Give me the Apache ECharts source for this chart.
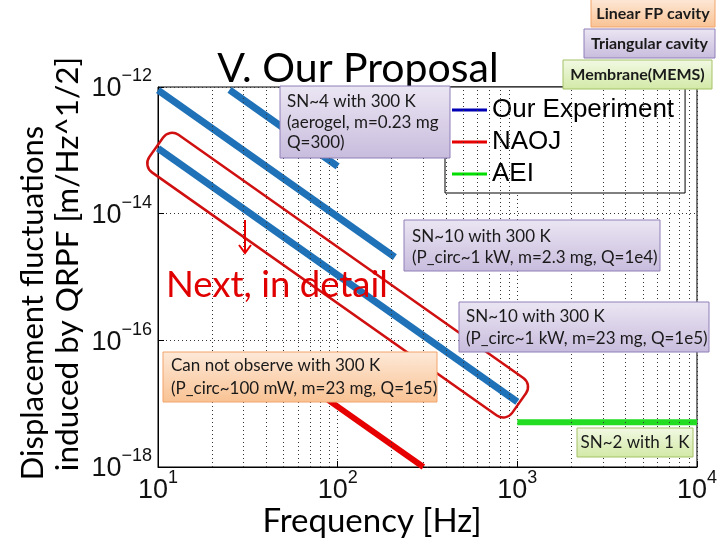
<!DOCTYPE html>
<html><head><meta charset="utf-8">
<script src="https://cdn.jsdelivr.net/npm/echarts@6/dist/echarts.min.js"></script>
<style>html,body{margin:0;padding:0;background:#fff}#c{width:720px;height:540px}</style>
</head><body><div id="c"></div>
<script>
// ---- data ----
const ourA_freq = [10, 208];            // SN~10, m=2.3 mg, Q=1e4
const ourA_val  = [8.9e-13, 2.06e-15];
const ourB_freq = [25, 100];            // SN~4, aerogel
const ourB_val  = [9.0e-13, 5.6e-14];
const ourC_freq = [10, 1000];           // SN~10, m=23 mg, Q=1e5
const ourC_val  = [1.07e-13, 1.07e-17];
const naoj_freq = [80, 300];
const naoj_val  = [1.4e-17, 1.0e-18];
const aei_freq  = [1000, 10000];
const aei_val   = [5.1e-18, 5.1e-18];
const minorGridFreqs = [20,30,40,50,60,70,80,90,200,300,400,500,600,700,800,900,2000,3000,4000,5000,6000,7000,8000,9000];
const legendNames = ['Our Experiment', 'NAOJ', 'AEI'];

const FONT = 'Lato, "Open Sans", sans-serif';
const AXFONT = '"Liberation Sans", Arial, sans-serif';
const BLUE = '#1f72b8', RED = '#e60000', GREEN = '#22dd22';

const pairs = (xs, ys) => xs.map((x, i) => [x, ys[i]]);
const supLabel = v => { const e = Math.round(Math.log10(v)); return '{b|10}{s|' + (e < 0 ? '\u2212' + (-e) : e) + '}'; };
const rich = {
  b: {fontSize: 27, lineHeight: 43, fontFamily: AXFONT, color: '#111'},
  s: {fontSize: 18, lineHeight: 18, verticalAlign: 'top', fontFamily: AXFONT, color: '#111'}
};

const chart = echarts.init(document.getElementById('c'));
const lineSeries = (name, xs, ys, color, width) => ({
  type: 'line', name, data: pairs(xs, ys), symbol: 'none', showSymbol: false,
  lineStyle: {color, width, cap: 'butt'}, itemStyle: {color}, clip: true, z: 3, silent: true
});

chart.setOption({
  animation: false,
  backgroundColor: '#fff',
  textStyle: {fontFamily: FONT},
  grid: {left: 158, top: 87, width: 539, height: 380, show: true, borderColor: '#000', borderWidth: 1, backgroundColor: '#fff'},
  xAxis: {
    type: 'log', logBase: 10, min: 10, max: 10000,
    axisLine: {show: true, lineStyle: {color: '#000', width: 1}},
    axisTick: {show: true, inside: true, length: 6, lineStyle: {color: '#000'}},
    axisLabel: {formatter: supLabel, rich, margin: 2},
    splitLine: {show: true, lineStyle: {color: '#333', type: [1, 3], width: 1}}
  },
  yAxis: {
    type: 'log', logBase: 100, min: 1e-18, max: 1e-12,
    axisLine: {show: true, lineStyle: {color: '#000', width: 1}},
    axisTick: {show: true, inside: true, length: 6, lineStyle: {color: '#000'}},
    axisLabel: {formatter: supLabel, rich, margin: 6, padding: [4, 0, 0, 0]},
    splitLine: {show: true, lineStyle: {color: '#333', type: [1, 3], width: 1}}
  },
  legend: {
    orient: 'vertical', left: 445, top: 87, backgroundColor: '#fff', borderColor: '#000', borderWidth: 1,
    padding: [8, 11, 4, 7], itemGap: 2, itemWidth: 35, itemHeight: 3, icon: 'rect', selectedMode: false,
    textStyle: {fontFamily: AXFONT, fontSize: 26, lineHeight: 30, color: '#000'},
    data: [
      {name: legendNames[0], itemStyle: {color: '#0000b4'}},
      {name: legendNames[1], itemStyle: {color: '#e60000'}},
      {name: legendNames[2], itemStyle: {color: '#00dd00'}}
    ]
  },
  series: [
    {type: 'line', data: [], silent: true, z: 1,
     markLine: {silent: true, symbol: ['none', 'none'], label: {show: false}, animation: false,
       lineStyle: {color: '#333', type: [1, 3], width: 1},
       data: minorGridFreqs.map(f => ({xAxis: f}))}},
    lineSeries(legendNames[0], ourA_freq, ourA_val, BLUE, 7),
    lineSeries(legendNames[0], ourB_freq, ourB_val, BLUE, 7),
    lineSeries(legendNames[0], ourC_freq, ourC_val, BLUE, 7),
    lineSeries(legendNames[1], naoj_freq, naoj_val, RED, 6),
    lineSeries(legendNames[2], aei_freq, aei_val, GREEN, 6)
  ]
});

// ---- annotations ----
const grad = (a, b) => new echarts.graphic.LinearGradient(0, 0, 0, 1, [{offset: 0, color: a}, {offset: 1, color: b}]);
const SCHEME = {
  purple: ['#ebe6f3', '#c8bcdd', '#8f7eb8'],
  orange: ['#fde9d8', '#f9c293', '#f2a46a'],
  green:  ['#f2f9e4', '#d2e9a6', '#a5c266']
};
function box(x, y, w, h, scheme, lines, opt) {
  const s = SCHEME[scheme];
  const els = [{type: 'rect', z: 100, silent: true, shape: {x, y, width: w, height: h},
    style: {fill: grad(s[0], s[1]), stroke: s[2], lineWidth: 1}}];
  lines.forEach((t, i) => {
    els.push({type: 'text', z: 101, silent: true, x: opt.center ? x + w / 2 : opt.tx, y: opt.ty[i],
      style: {text: t, fontSize: opt.fs || 17, fontFamily: FONT, fontWeight: opt.fw || 'normal', fill: '#1a1a1a',
        align: opt.center ? 'center' : 'left', verticalAlign: 'middle'}});
  });
  return els;
}

const p1 = chart.convertToPixel({gridIndex: 0}, [ourC_freq[0], ourC_val[0]]);
const p2 = chart.convertToPixel({gridIndex: 0}, [ourC_freq[1], ourC_val[1]]);
const cx = (p1[0] + p2[0]) / 2, cy = (p1[1] + p2[1]) / 2;
const ang = Math.atan2(p2[1] - p1[1], p2[0] - p1[0]);

const graphics = [
  {type: 'rect', x: cx, y: cy, rotation: -ang, z: 50, silent: true,
   shape: {x: -222, y: -23, width: 444, height: 46, r: 11},
   style: {fill: 'none', stroke: '#d01010', lineWidth: 2.5}},
  {type: 'line', z: 60, silent: true, shape: {x1: 245, y1: 220, x2: 245, y2: 253}, style: {stroke: RED, lineWidth: 2}},
  {type: 'polyline', z: 60, silent: true, shape: {points: [[239, 245], [245, 253], [251, 245]]}, style: {stroke: RED, lineWidth: 2, fill: 'none'}},
  {type: 'text', z: 60, silent: true, x: 166, y: 285, style: {text: 'Next, in detail', fontSize: 36.5, fontFamily: FONT, fill: '#e00000', align: 'left', verticalAlign: 'middle'}},
  {type: 'text', z: 60, silent: true, x: 358, y: 69, style: {text: 'V. Our Proposal', fontSize: 41, fontFamily: FONT, fill: '#000', align: 'center', verticalAlign: 'middle'}},
  {type: 'text', z: 60, silent: true, x: 372, y: 521, style: {text: 'Frequency [Hz]', fontSize: 33, fontFamily: FONT, fill: '#000', align: 'center', verticalAlign: 'middle'}},
  {type: 'text', z: 60, silent: true, x: 33, y: 303, rotation: Math.PI / 2, style: {text: 'Displacement fluctuations', fontSize: 31, fontFamily: FONT, fill: '#000', align: 'center', verticalAlign: 'middle'}},
  {type: 'text', z: 60, silent: true, x: 68, y: 264, rotation: Math.PI / 2, style: {text: 'induced by QRPF [m/Hz^1/2]', fontSize: 31.5, fontFamily: FONT, fill: '#000', align: 'center', verticalAlign: 'middle'}}
].concat(
  box(591, -1, 124, 28, 'orange', ['Linear FP cavity'], {center: true, ty: [14], fs: 16, fw: 'bold'}),
  box(584, 29, 131, 29, 'purple', ['Triangular cavity'], {center: true, ty: [44], fs: 16, fw: 'bold'}),
  box(563, 60, 149, 29, 'green', ['Membrane(MEMS)'], {center: true, ty: [75], fs: 16, fw: 'bold'}),
  box(280, 86, 170, 72, 'purple', ['SN~4 with 300 K', '(aerogel, m=0.23 mg', 'Q=300)'], {tx: 287, ty: [102, 123, 143]}),
  box(404, 220, 256, 51, 'purple', ['SN~10 with 300 K', '(P_circ~1 kW, m=2.3 mg, Q=1e4)'], {tx: 412, ty: [237, 258]}),
  box(459, 302, 250, 50, 'purple', ['SN~10 with 300 K', '(P_circ~1 kW, m=23 mg, Q=1e5)'], {tx: 466, ty: [317, 339]}),
  box(163, 352, 274, 50, 'orange', ['Can not observe with 300 K', '(P_circ~100 mW, m=23 mg, Q=1e5)'], {tx: 171, ty: [366, 389]}),
  box(577, 428, 116, 29, 'green', ['SN~2 with 1 K'], {center: true, ty: [443]})
);
chart.setOption({graphic: graphics});
</script></body></html>
